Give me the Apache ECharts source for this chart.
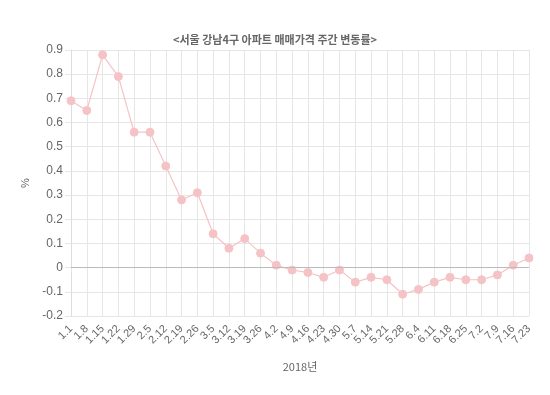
<!DOCTYPE html>
<html><head><meta charset="utf-8">
<script src="https://cdn.jsdelivr.net/npm/echarts@6/dist/echarts.min.js"></script>
<style>html,body{margin:0;padding:0;background:#fff}#c{width:550px;height:395px}</style>
</head><body><div id="c"></div>
<script>
const categories = ['1.1','1.8','1.15','1.22','1.29','2.5','2.12','2.19','2.26','3.5','3.12','3.19','3.26','4.2','4.9','4.16','4.23','4.30','5.7','5.14','5.21','5.28','6.4','6.11','6.18','6.25','7.2','7.9','7.16','7.23'];
const values = [0.69,0.65,0.88,0.79,0.56,0.56,0.42,0.28,0.31,0.14,0.08,0.12,0.06,0.01,-0.01,-0.02,-0.04,-0.01,-0.06,-0.04,-0.05,-0.11,-0.09,-0.06,-0.04,-0.05,-0.05,-0.03,0.01,0.04];
const titleText = '<서울 강남4구 아파트 매매가격 주간 변동률>';
const xName = '2018년';
const yName = '%';
const chart = echarts.init(document.getElementById('c'));
const font = 'Liberation Sans, Arial, Noto Sans CJK KR, sans-serif';
chart.setOption({
  animation: false,
  title: {text: titleText, left: 'center', top: 29,
    textStyle: {fontSize: 11, fontWeight: 'bold', color: '#666', fontFamily: 'Noto Sans CJK KR, sans-serif'}},
  grid: {left: 71, right: 21, top: 50, bottom: 79},
  xAxis: {type: 'category', data: categories, boundaryGap: false,
    name: xName, nameLocation: 'middle', nameGap: 45,
    nameTextStyle: {fontSize: 11, color: '#666', fontFamily: 'Noto Sans CJK KR, sans-serif'},
    axisLine: {show: true, lineStyle: {color: '#ddd'}},
    axisTick: {show: true, length: 5, lineStyle: {color: '#e6e6e6'}, alignWithLabel: true},
    axisLabel: {rotate: 45, interval: 0, fontSize: 11, color: '#666', margin: 11, fontFamily: font},
    splitLine: {show: true, lineStyle: {color: '#e6e6e6'}}},
  yAxis: {type: 'value', min: -0.2, max: 0.9, interval: 0.1,
    name: yName, nameLocation: 'middle', nameGap: 31, nameRotate: 90,
    nameTextStyle: {fontSize: 11, color: '#666', fontFamily: font},
    axisLine: {show: true, lineStyle: {color: '#ddd'}},
    axisTick: {show: true, length: 6, lineStyle: {color: '#e6e6e6'}},
    axisLabel: {fontSize: 12, color: '#666', margin: 8, fontFamily: font,
      formatter: v => String(Math.round(v * 10) / 10)},
    splitLine: {show: true, lineStyle: {color: '#e6e6e6'}}},
  series: [{type: 'line', data: values, symbol: 'circle', symbolSize: 8,
    lineStyle: {color: '#f5c3c6', width: 1.2},
    itemStyle: {color: '#f5c3c6', borderColor: '#f5c3c6'},
    markLine: {silent: true, symbol: 'none', label: {show: false},
      lineStyle: {color: '#bbb', type: 'solid', width: 1},
      data: [{yAxis: 0}]}}]
});
</script></body></html>
